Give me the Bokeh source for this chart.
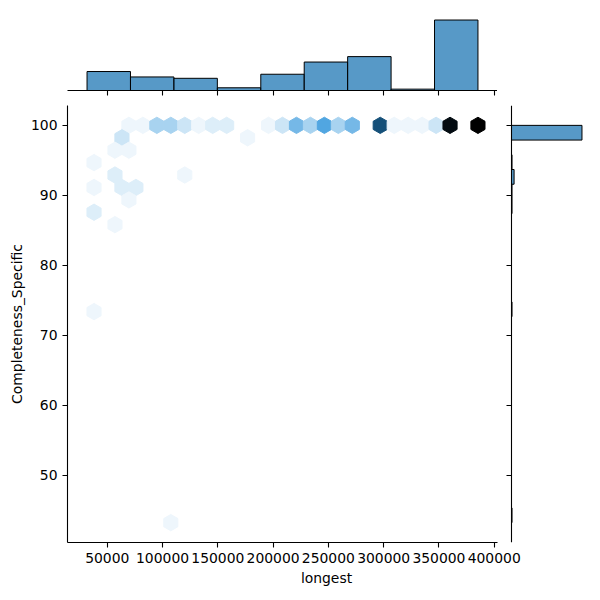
import numpy as np
import colorsys
from bokeh.plotting import figure
from bokeh.layouts import column
from bokeh.models import (ColumnDataSource, LinearColorMapper, SingleIntervalTicker, FixedTicker,
                          Range1d, BasicTickFormatter, CustomJSTickFormatter, LinearAxis)
from bokeh.transform import transform
from bokeh.embed import file_html
from bokeh.resources import INLINE

# ---- data ----
longest_min, longest_max = 31700, 385300
compl_min, compl_max = 43.26, 100.0

hex_longest = [69586, 82214, 94843, 107472, 120100, 132729, 145357, 157986,
               195872, 208500, 221129, 233758, 246386, 259015, 271643,
               296900, 309529, 322158, 334786, 347415, 360043, 385300,
               63271, 176929,
               56957, 69586,
               38014,
               56957, 120100,
               38014, 63271, 75900,
               69586,
               38014,
               56957,
               38014,
               107472]
hex_completeness = [100.0] * 22 + [98.23] * 2 + [96.45] * 2 + [94.68] + [92.91] * 2 + \
                   [91.13] * 3 + [89.36] + [87.59] + [85.82] + [73.40] + [43.26]
hex_count = [1, 1, 5, 5, 3, 1, 2, 2,
             1, 3, 8, 5, 10, 5, 8,
             18, 1, 1, 1, 3, 24, 25,
             3, 1,
             1, 1,
             1,
             2, 1,
             1, 2, 2,
             1,
             2,
             1,
             1,
             1]

top_counts = [14, 10, 9, 2, 12, 21, 25, 1, 52]
right_counts = [1, 0, 0, 0, 0, 0, 0, 0, 0, 0, 0, 0, 0, 0, 1, 0, 0, 0, 0, 0,
                0, 1, 1, 5, 1, 0, 136]

x_ticks = [50000, 100000, 150000, 200000, 250000, 300000, 350000, 400000]
y_ticks_interval = 10

# ---- colormap (white -> blue -> black, hue of C0) ----
base = (0x1f / 255, 0x77 / 255, 0xb4 / 255)
h, l, s = colorsys.rgb_to_hls(*base)
anchors = np.array([colorsys.hls_to_rgb(h, v, s) for v in np.linspace(1, 0, 12)])
pos = np.linspace(0, 1, len(anchors))
t = np.linspace(0, 1, 256)
cols = np.stack([np.interp(t, pos, anchors[:, k]) for k in range(3)], axis=1)
palette = ["#%02x%02x%02x" % tuple(int(round(c * 255)) for c in cc) for cc in cols]
mapper = LinearColorMapper(palette=palette, low=0, high=max(hex_count))

FONT = "DejaVu Sans"
FS = "13.9px"

# geometry (pixels)
LEFT = 67
JOINT_W = 430
GAP = 14
MARG_W = 74
JOINT_H = 437

padx = 0.05 * (longest_max - longest_min)
pady = 0.05 * (compl_max - compl_min)
x0, x1 = longest_min - padx, longest_max + padx
frame_w = JOINT_W + GAP + MARG_W
x1_ext = x0 + (x1 - x0) * frame_w / JOINT_W
yr = Range1d(compl_min - pady, compl_max + pady)

cmax = max(right_counts) * 1.05
cnt_start = cmax - frame_w * cmax / MARG_W


def style_axis(ax, labels=True):
    ax.axis_line_color = "black"
    ax.axis_line_width = 1.1
    ax.major_tick_line_color = "black"
    ax.major_tick_line_width = 1.1
    ax.major_tick_out = 5
    ax.major_tick_in = 0
    ax.minor_tick_line_color = None
    ax.major_label_text_font = FONT
    ax.major_label_text_font_size = FS
    ax.major_label_text_color = "black"
    ax.major_label_standoff = 5 if labels else 0
    if labels:
        ax.formatter = BasicTickFormatter(use_scientific=False)
    else:
        ax.formatter = CustomJSTickFormatter(code="return '';")
    ax.axis_label_text_font = FONT
    ax.axis_label_text_font_size = FS
    ax.axis_label_text_font_style = "normal"
    ax.axis_label_text_color = "black"


# ---- joint hexbin + right marginal in one figure ----
p = figure(frame_width=frame_w, frame_height=JOINT_H,
           x_range=Range1d(x0, x1_ext), y_range=yr,
           output_backend="svg", toolbar_location=None,
           min_border_left=LEFT, min_border_right=600 - LEFT - frame_w,
           min_border_top=0, min_border_bottom=58)
p.outline_line_color = None
p.grid.visible = False
p.extra_x_ranges = {"cnt": Range1d(cnt_start, cmax)}

src = ColumnDataSource(dict(x=hex_longest, y=hex_completeness, c=hex_count))
p.scatter("x", "y", source=src, marker="hex", size=16.3, angle=np.pi / 6,
          fill_color=transform("c", mapper), line_color=transform("c", mapper), line_width=1)

p.xaxis.ticker = FixedTicker(ticks=x_ticks)
p.xaxis.bounds = (x0, x1)
p.yaxis.ticker = SingleIntervalTicker(interval=y_ticks_interval)
style_axis(p.xaxis[0])
style_axis(p.yaxis[0])
p.xaxis.axis_label = "longest"
p.yaxis.axis_label = "Completeness_Specific"
p.xaxis.axis_label_standoff = 4
p.yaxis.axis_label_standoff = 3

y_edges = np.linspace(compl_min, compl_max, len(right_counts) + 1)
p.quad(left=0, right=right_counts, bottom=y_edges[:-1], top=y_edges[1:],
       x_range_name="cnt",
       fill_color="#1f77b4", fill_alpha=0.75, line_color="black", line_width=1)
rax = LinearAxis(x_range_name="cnt", fixed_location=0,
                 ticker=SingleIntervalTicker(interval=y_ticks_interval))
style_axis(rax, labels=False)
p.add_layout(rax, "left")

# ---- top marginal ----
x_edges = np.linspace(longest_min, longest_max, len(top_counts) + 1)
pt = figure(frame_width=JOINT_W, frame_height=74, x_range=Range1d(x0, x1),
            y_range=Range1d(0, max(top_counts) * 1.05),
            output_backend="svg", toolbar_location=None, y_axis_location=None,
            min_border_left=LEFT, min_border_right=0, min_border_top=16, min_border_bottom=15)
pt.outline_line_color = None
pt.grid.visible = False
pt.quad(left=x_edges[:-1], right=x_edges[1:], bottom=0, top=top_counts,
        fill_color="#1f77b4", fill_alpha=0.75, line_color="black", line_width=1)
pt.xaxis.ticker = FixedTicker(ticks=x_ticks)
style_axis(pt.xaxis[0], labels=False)

layout = column(pt, p)
open("out.html", "w").write(file_html(layout, INLINE))
